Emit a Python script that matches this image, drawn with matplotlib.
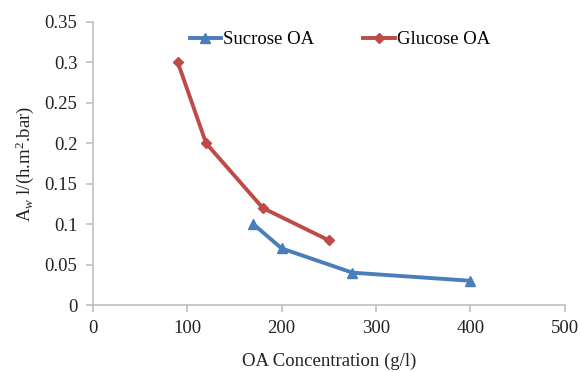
import matplotlib
matplotlib.use("Agg")
import matplotlib.pyplot as plt

plt.rcParams["font.family"] = ["Liberation Serif", "DejaVu Serif"]
plt.rcParams["mathtext.fontset"] = "custom"
plt.rcParams["mathtext.rm"] = "Liberation Serif"
plt.rcParams["mathtext.it"] = "Liberation Serif:italic"

# data
sucrose_conc = [170, 200, 275, 400]
sucrose_aw = [0.10, 0.07, 0.04, 0.03]
glucose_conc = [90, 120, 180, 250]
glucose_aw = [0.30, 0.20, 0.12, 0.08]

blue = "#4a7ebb"
red = "#be4b48"
grey = "#bfbfbf"
txt = "#222222"

fig = plt.figure(figsize=(5.8, 3.72), dpi=100)
ax = fig.add_axes([0.160, 0.180, 0.814, 0.761])

ax.plot(sucrose_conc, sucrose_aw, color=blue, lw=2.8, marker="^", ms=7.5,
        label="Sucrose OA")
ax.plot(glucose_conc, glucose_aw, color=red, lw=2.8, marker="D", ms=5.5,
        label="Glucose OA")

ax.set_xlim(0, 500)
ax.set_ylim(0, 0.35)
ax.set_xticks([0, 100, 200, 300, 400, 500])
ax.set_yticks([0, 0.05, 0.1, 0.15, 0.2, 0.25, 0.3, 0.35])
ax.set_yticklabels(["0", "0.05", "0.1", "0.15", "0.2", "0.25", "0.3", "0.35"])

for s in ["top", "right"]:
  ax.spines[s].set_visible(False)
for s in ["left", "bottom"]:
  ax.spines[s].set_color(grey)
  ax.spines[s].set_linewidth(1.2)
ax.tick_params(colors=grey, labelcolor=txt, labelsize=13.5, length=5,
               width=1.2, direction="out")
ax.tick_params(axis="x", pad=6)
ax.tick_params(axis="y", pad=6)

ax.set_xlabel("OA Concentration (g/l)", fontsize=13.5, labelpad=11, color=txt)
ax.set_ylabel(r"A$_w$ l/(h.m$^2$.bar)", fontsize=13.5, color=txt, labelpad=6)

ax.legend(loc="upper left", bbox_to_anchor=(0.185, 1.0), ncol=2, frameon=False,
          fontsize=13.5, handlelength=1.7, handletextpad=0.1, columnspacing=2.6,
          borderaxespad=0.1)

fig.savefig("out.png", dpi=100)
